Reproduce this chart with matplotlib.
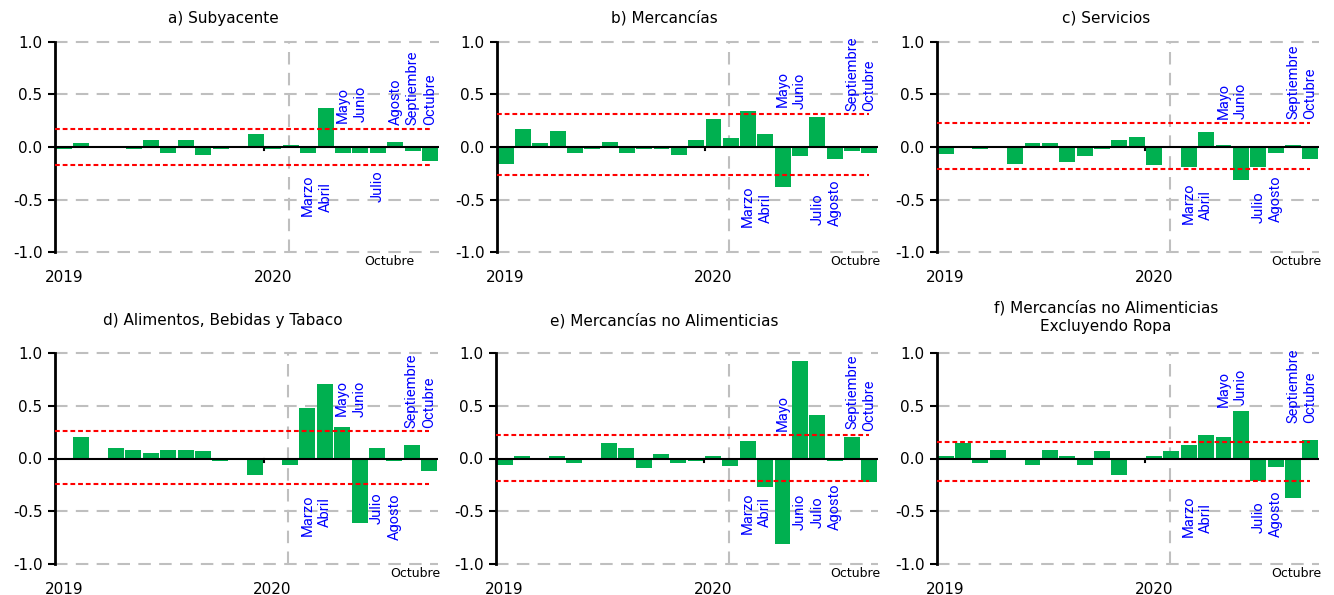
import matplotlib
matplotlib.use('Agg')
import matplotlib.pyplot as plt

# months Jan 2019 .. Oct 2020
n_months = 22
year_labels = ['2019', '2020']
month_labels = ['Marzo', 'Abril', 'Mayo', 'Junio', 'Julio', 'Agosto',
                'Septiembre', 'Octubre']

titles = ['a) Subyacente', 'b) Mercancías', 'c) Servicios',
          'd) Alimentos, Bebidas y Tabaco', 'e) Mercancías no Alimenticias',
          'f) Mercancías no Alimenticias\nExcluyendo Ropa']

subyacente = [-0.02, 0.04, 0.0, 0.0, -0.02, 0.07, -0.06, 0.07, -0.08, -0.02, 0.0,
              0.12, -0.02, 0.02, -0.06, 0.37, -0.06, -0.06, -0.06, 0.05, -0.04, -0.13]
mercancias = [-0.16, 0.17, 0.04, 0.15, -0.06, -0.02, 0.05, -0.06, -0.02, -0.02, -0.08,
              0.07, 0.27, 0.09, 0.34, 0.12, -0.38, -0.09, 0.29, -0.11, -0.04, -0.06]
servicios = [-0.07, 0.0, -0.02, 0.0, -0.16, 0.04, 0.04, -0.14, -0.09, -0.02, 0.07,
             0.10, -0.17, 0.0, -0.19, 0.14, 0.02, -0.31, -0.19, -0.06, 0.02, -0.11]
alimentos = [0.0, 0.20, 0.0, 0.10, 0.08, 0.05, 0.08, 0.08, 0.07, -0.02, 0.0,
             -0.16, 0.0, -0.06, 0.48, 0.71, 0.30, -0.61, 0.10, -0.02, 0.13, -0.12]
no_alim = [-0.06, 0.02, 0.0, 0.02, -0.04, 0.0, 0.15, 0.10, -0.09, 0.04, -0.04,
           -0.02, 0.02, -0.07, 0.17, -0.27, -0.81, 0.92, 0.41, -0.02, 0.20, -0.22]
no_alim_ropa = [0.02, 0.15, -0.04, 0.08, 0.0, -0.06, 0.08, 0.02, -0.06, 0.07, -0.16,
                0.0, 0.02, 0.07, 0.13, 0.22, 0.20, 0.45, -0.21, -0.08, -0.37, 0.18]

upper = [0.17, 0.31, 0.23, 0.26, 0.22, 0.16]
lower = [-0.17, -0.27, -0.21, -0.24, -0.21, -0.21]

series = [subyacente, mercancias, servicios, alimentos, no_alim, no_alim_ropa]

# layout: where the blue month labels sit (y anchor, + above / - below)
label_y = [
    [-0.26, -0.33, 0.23, 0.24, -0.22, 0.21, 0.21, 0.21],
    [-0.37, -0.44, 0.38, 0.36, -0.44, -0.31, 0.34, 0.34],
    [-0.34, -0.41, 0.27, 0.27, -0.42, -0.27, 0.27, 0.27],
    [-0.34, -0.37, 0.40, 0.39, -0.32, -0.33, 0.285, 0.29],
    [-0.32, -0.37, 0.26, -0.33, -0.36, -0.24, 0.28, 0.265],
    [-0.35, -0.42, 0.49, 0.51, -0.41, -0.30, 0.34, 0.34],
]
oct_x = [20.1, 21.65, 21.65, 21.65, 21.65, 21.65]

W, H = 1334, 595
# axes boxes in pixels: left, right, top, bottom
boxes = [(55, 439, 42, 252), (497, 878, 42, 252), (937, 1319, 42, 252),
         (55, 438, 353, 564), (496, 878, 353, 564), (937, 1319, 353, 564)]
title_pos = [(223, 18), (664, 18), (1106, 18), (223, 321), (664, 321), (1106, 321)]

fig = plt.figure(figsize=(W / 100, H / 100), dpi=100)
label_font = ['Roboto', 'DejaVu Sans']

for k in range(6):
    l, r, t, b = boxes[k]
    ax = fig.add_axes([l / W, (H - b) / H, (r - l) / W, (b - t) / H])
    x = list(range(n_months))
    ax.bar(x, series[k], width=0.92, color='#00B050', zorder=2)

    for yv in [1.0, 0.5, -0.5, -1.0]:
        ax.plot([-0.5, 21.5], [yv, yv], color='#BFBFBF', lw=1.5,
                dashes=(6, 4), zorder=1, clip_on=False)
    ax.plot([12.9, 12.9], [-1, 1], color='#BFBFBF', lw=1.5, dashes=(6, 4), zorder=1)
    ax.plot([-0.5, 21.5], [0, 0], color='black', lw=1.5, zorder=3)
    ax.plot([11.5, 11.5], [0, -0.03], color='black', lw=1.5, zorder=3)
    ax.plot([-0.5, 21.0], [upper[k], upper[k]], color='red', lw=1.5,
            dashes=(2.3, 1.4), zorder=4)
    ax.plot([-0.5, 21.0], [lower[k], lower[k]], color='red', lw=1.5,
            dashes=(2.3, 1.4), zorder=4)

    for j, name in enumerate(month_labels):
        yv = label_y[k][j]
        ax.text(14 + j, yv, name, rotation=90, color='blue', fontsize=10.5,
                family=label_font, ha='center',
                va='bottom' if yv > 0 else 'top', zorder=5)

    ax.text(oct_x[k], -1.03, 'Octubre', ha='right', va='top', fontsize=9)

    ax.set_xlim(-0.5, 21.5)
    ax.set_ylim(-1.0, 1.0)
    ax.set_yticks([-1.0, -0.5, 0.0, 0.5, 1.0])
    ax.set_yticklabels(['-1.0', '-0.5', '0.0', '0.5', '1.0'])
    ax.set_xticks([0, 12])
    ax.set_xticklabels(year_labels)
    ax.tick_params(axis='x', length=0, pad=13, labelsize=11)
    ax.tick_params(axis='y', length=5, width=1.5, labelsize=11, pad=4)
    for s in ['top', 'right', 'bottom']:
        ax.spines[s].set_visible(False)
    ax.spines['left'].set_linewidth(2)
    ax.patch.set_alpha(0)

    tx, ty = title_pos[k]
    fig.text(tx / W, 1 - ty / H, titles[k], ha='center',
             va='center' if k != 5 else 'top', fontsize=11,
             linespacing=1.3)

fig.texts[-1].set_y(1 - 300 / H)
fig.savefig('out.png', dpi=100)
